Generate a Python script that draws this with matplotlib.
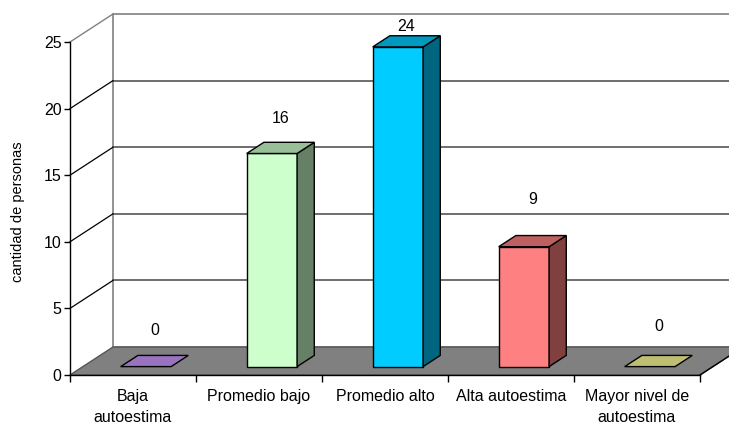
import matplotlib
matplotlib.use("Agg")
import matplotlib.pyplot as plt
import numpy as np
from matplotlib.patches import Polygon

plt.rcParams['font.family'] = ['Liberation Sans', 'DejaVu Sans']

# datos
categorias = ["Baja\nautoestima", "Promedio bajo", "Promedio alto",
              "Alta autoestima", "Mayor nivel de\nautoestima"]
valores = [0, 16, 24, 9, 0]
y_ticks = [0, 5, 10, 15, 20, 25]

# colores de cada barra (frente) y sombreado para tapa y lateral
colores = ["#CC99FF", "#CCFFCC", "#00CCFF", "#FF8080", "#FFFF99"]
# altura extra (en unidades) de cada etiqueta sobre su barra
elev_etiqueta = [2.3, 2.2, 1.15, 3.15, 2.6]

# profundidad del efecto 3D en unidades de datos
DX = 0.341
DY = 2.10
ANCHO = 0.40
F1, F2 = 0.30, 0.70  # posicion de la barra dentro de la profundidad
YMAX = 25


def sombra(hex_color, f):
    rgb = np.array(matplotlib.colors.to_rgb(hex_color)) * f
    return tuple(rgb)


fig = plt.figure(figsize=(7.29, 4.24), dpi=100)
ax = fig.add_axes([0, 0, 1, 1])
ax.set_xlim(-70 / 126, (729 - 70) / 126)
ax.set_ylim(-49 / 13.32, (424 - 49) / 13.32)
ax.patch.set_visible(False)

n = len(categorias)

# pared del fondo
pared = Polygon([(DX, DY), (n + DX, DY), (n + DX, YMAX + DY), (DX, YMAX + DY)],
                closed=True, facecolor="white", edgecolor="#808080", lw=1.2, zorder=1)
ax.add_patch(pared)
for v in y_ticks[1:-1]:
    ax.plot([DX, n + DX], [v + DY, v + DY], color="#555555", lw=1.2, zorder=1.5)
    ax.plot([0, DX], [v, v + DY], color="black", lw=0.9, zorder=1.5)
ax.plot([0, DX], [YMAX, YMAX + DY], color="#808080", lw=1.0, zorder=1.5)

# piso
piso = Polygon([(0, 0), (n, 0), (n + DX, DY), (DX, DY)], closed=True,
               facecolor="#808080", edgecolor="#555555", lw=1.0, zorder=2)
ax.add_patch(piso)

# barras 3D
for i, (v, c) in enumerate(zip(valores, colores)):
    x0 = i + (1 - ANCHO) / 2
    x1 = x0 + ANCHO
    ox1, oy1 = F1 * DX, F1 * DY
    ox2, oy2 = F2 * DX, F2 * DY
    frente = [(x0 + ox1, oy1), (x1 + ox1, oy1), (x1 + ox1, v + oy1), (x0 + ox1, v + oy1)]
    lateral = [(x1 + ox1, oy1), (x1 + ox2, oy2), (x1 + ox2, v + oy2), (x1 + ox1, v + oy1)]
    tapa = [(x0 + ox1, v + oy1), (x1 + ox1, v + oy1), (x1 + ox2, v + oy2), (x0 + ox2, v + oy2)]
    if v > 0:
        ax.add_patch(Polygon(frente, closed=True, facecolor=c, edgecolor="black", lw=1.0, zorder=3))
        ax.add_patch(Polygon(lateral, closed=True, facecolor=sombra(c, 0.5), edgecolor="black", lw=1.0, zorder=3))
    ax.add_patch(Polygon(tapa, closed=True, facecolor=sombra(c, 0.75), edgecolor="black", lw=1.0, zorder=3))

    xc = i + 0.5 + 0.5 * DX
    ax.text(xc, v + 0.5 * DY + elev_etiqueta[i], str(v), ha="center", va="center",
            fontsize=11.5, zorder=4)

# ejes frontales
ax.spines["top"].set_visible(False)
ax.spines["right"].set_visible(False)
ax.spines["left"].set_position(("data", 0))
ax.spines["left"].set_bounds(0, YMAX)
ax.spines["bottom"].set_position(("data", 0))
ax.spines["bottom"].set_bounds(0, n)
for s in ("left", "bottom"):
    ax.spines[s].set_zorder(5)
    ax.spines[s].set_linewidth(1.0)

ax.set_yticks(y_ticks)
ax.set_yticklabels([str(t) for t in y_ticks])
ax.tick_params(axis="y", direction="out", length=4, width=1.0, pad=2, labelsize=11.5)

ax.set_xticks(np.arange(n + 1))
ax.set_xticklabels([])
ax.set_xticks(np.arange(n) + 0.5, minor=True)
ax.set_xticklabels(categorias, minor=True, linespacing=1.5)
ax.tick_params(axis="x", which="major", direction="out", length=5, width=1.0)
ax.tick_params(axis="x", which="minor", length=0, pad=10, labelsize=11.5)

# linea del borde derecho del piso
ax.plot([n, n + DX], [0, DY], color="black", lw=1.0, zorder=5)

fig.text(18 / 729, 1 - 212 / 424, "cantidad de personas", rotation=90,
         ha="center", va="center", fontsize=10.5)

fig.savefig("out.png", dpi=100)
